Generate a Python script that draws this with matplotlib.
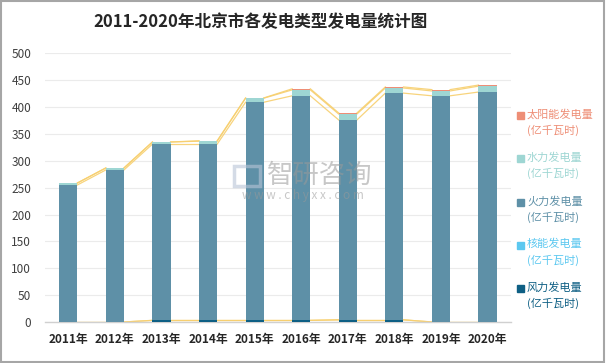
import matplotlib
matplotlib.use("Agg")
import matplotlib.pyplot as plt
import numpy as np
from matplotlib.patches import Rectangle

plt.rcParams['font.family'] = ['Noto Sans CJK SC', 'DejaVu Sans']

years = ['2011年', '2012年', '2013年', '2014年', '2015年', '2016年', '2017年', '2018年', '2019年', '2020年']
wind = [0, 0, 3, 3, 3, 3, 4, 4, 0, 0]
nuclear = [0, 0, 0, 0, 0, 0, 0, 0, 0, 0]
thermal = [255, 283, 328, 328, 406, 418, 372, 422, 421, 428]
hydro = [3.7, 3.7, 4, 5.5, 7.5, 11, 11, 9.5, 9, 11]
solar = [0, 0, 0, 0.8, 0.5, 2, 2, 2, 2.5, 2]

series = [
    ('风力发电量\n(亿千瓦时)', wind, '#0E5F84'),
    ('核能发电量\n(亿千瓦时)', nuclear, '#5CC8F0'),
    ('火力发电量\n(亿千瓦时)', thermal, '#5E90A7'),
    ('水力发电量\n(亿千瓦时)', hydro, '#9ED6D3'),
    ('太阳能发电量\n(亿千瓦时)', solar, '#EE8E76'),
]

fig = plt.figure(figsize=(6.06, 3.63), dpi=100)
ax = fig.add_axes([0.0743, 0.113, 0.7687, 0.740])

x = np.arange(len(years))
w = 0.39
bottom = np.zeros(len(years))
tops = []
for name, vals, col in series:
    v = np.array(vals, dtype=float)
    ax.bar(x, v, w, bottom=bottom, color=col, zorder=3, label=name)
    bottom = bottom + v
    tops.append(bottom.copy())

# series lines connecting segment tops between bars
for t in tops:
    for i in range(len(years) - 1):
        ax.plot([x[i] + w / 2, x[i + 1] - w / 2], [t[i], t[i + 1]],
                color='#F7CF6E', lw=0.9, zorder=2, alpha=0.9)

ax.set_xlim(-0.5, len(years) - 0.5)
ax.set_ylim(0, 500)
ax.set_yticks(np.arange(0, 501, 50))
ax.set_xticks(x)
ax.set_xticklabels(years, fontsize=8.5, fontweight='bold', color='#262626')
ax.tick_params(axis='y', labelsize=8.5, labelcolor='#404040', length=0, pad=10)
ax.tick_params(axis='x', length=0, pad=8)
ax.grid(axis='y', color='#EBEBEB', lw=0.8, zorder=0)
for s in ['top', 'right', 'left']:
    ax.spines[s].set_visible(False)
ax.spines['bottom'].set_color('#D0D0D0')
ax.spines['bottom'].set_linewidth(1.0)

# title
fig.text(260 / 606, 1 - 22 / 363, '2011-2020年北京市各发电类型发电量统计图',
         ha='center', va='center', fontsize=12, fontweight='bold', color='#262626')

# legend (custom, colored text)
leg_y = [115, 158, 202, 245, 288]
for (name, vals, col), yy in zip(series[::-1], leg_y):
    fig.patches.append(Rectangle((517 / 606, 1 - (yy + 4) / 363), 7 / 606, 7 / 363,
                                 transform=fig.transFigure, color=col, figure=fig))
    fig.text(527 / 606, 1 - (yy - 6) / 363, name, ha='left', va='top',
             fontsize=8, color=col, linespacing=1.55)

# watermark
fig.patches.append(Rectangle((234 / 606, 1 - 186 / 363), 26 / 606, 20 / 363,
                             transform=fig.transFigure, fill=False, edgecolor='#B8C4D6',
                             lw=2.5, alpha=0.6, figure=fig, zorder=10))
fig.text(320 / 606, 1 - 175 / 363, '智研咨询', ha='center', va='center',
         fontsize=19, color='#9A9A9A', alpha=0.55, zorder=10)
fig.text(303 / 606, 1 - 195 / 363, 'w w w . c h y x x . c o m', ha='center', va='center',
         fontsize=8.5, color='#9A9A9A', alpha=0.55, zorder=10)

# border
fig.patches.append(Rectangle((0.002, 0.003), 0.995, 0.994, transform=fig.transFigure,
                             fill=False, edgecolor='#A6A6A6', lw=1.5, figure=fig))

fig.savefig('out.png', dpi=100)
